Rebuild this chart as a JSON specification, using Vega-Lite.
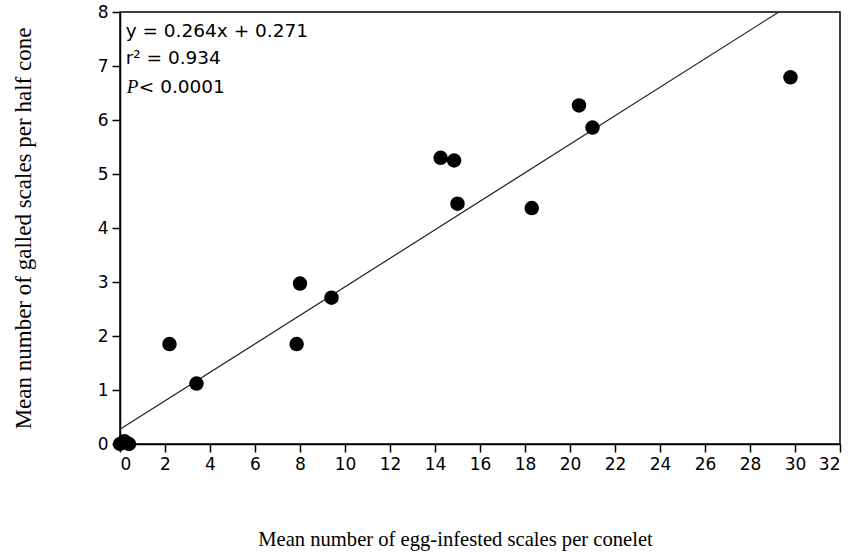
{
  "$schema": "https://vega.github.io/schema/vega-lite/v6.json",
  "width": 720,
  "height": 432,
  "autosize": {"type": "none"},
  "padding": {"left": 120, "top": 12, "right": 11, "bottom": 108},
  "background": "white",
  "config": {
    "view": {"stroke": "black", "strokeWidth": 1.5},
    "axis": {
      "domainColor": "black",
      "domainWidth": 1.5,
      "tickColor": "black",
      "tickWidth": 1.5,
      "tickSize": 8,
      "grid": false,
      "labelFont": "DejaVu Sans",
      "labelFontSize": 17,
      "labelColor": "black",
      "titleFont": "Liberation Serif",
      "titleFontSize": 20.6,
      "titleFontWeight": "normal",
      "titleColor": "black"
    }
  },
  "datasets": {
    "pts": [
      {"x": 0.0, "y": 0.0},
      {"x": 0.2, "y": 0.05},
      {"x": 0.4, "y": 0.0},
      {"x": 2.2, "y": 1.85},
      {"x": 3.4, "y": 1.12},
      {"x": 7.85, "y": 1.85},
      {"x": 8.0, "y": 2.97},
      {"x": 9.4, "y": 2.71},
      {"x": 14.25, "y": 5.3},
      {"x": 14.85, "y": 5.25},
      {"x": 15.0, "y": 4.45},
      {"x": 18.3, "y": 4.37},
      {"x": 20.4, "y": 6.27},
      {"x": 21.0, "y": 5.86},
      {"x": 29.8, "y": 6.79}
    ],
    "fit": [
      {"x": 0, "y": 0.271},
      {"x": 29.28, "y": 8.0}
    ],
    "notes": [
      {"x": 0.25, "y": 7.64, "label": "y = 0.264x  + 0.271"},
      {"x": 0.25, "y": 7.14, "label": "r² = 0.934"}
    ],
    "pnote": [
      {"x": 0.3, "y": 6.61, "p": "P", "rest": "< 0.0001"}
    ]
  },
  "layer": [
    {
      "data": {"name": "fit"},
      "mark": {"type": "line", "color": "#222", "strokeWidth": 1.2},
      "encoding": {
        "x": {
          "field": "x", "type": "quantitative",
          "scale": {"domain": [0, 32], "nice": false, "zero": false},
          "axis": {"values": [0,2,4,6,8,10,12,14,16,18,20,22,24,26,28,30,32], "title": "Mean number of egg-infested scales per conelet", "titlePadding": 57, "labelPadding": 4, "titleX": 335}
        },
        "y": {
          "field": "y", "type": "quantitative",
          "scale": {"domain": [0, 8], "nice": false},
          "axis": {"values": [0,1,2,3,4,5,6,7,8], "title": "Mean number of galled scales per half cone", "titlePadding": 62, "labelPadding": 4, "titleFontSize": 23}
        }
      }
    },
    {
      "data": {"name": "pts"},
      "mark": {"type": "circle", "color": "black", "opacity": 1, "size": 210},
      "encoding": {
        "x": {"field": "x", "type": "quantitative"},
        "y": {"field": "y", "type": "quantitative"}
      }
    },
    {
      "data": {"name": "notes"},
      "mark": {"type": "text", "align": "left", "baseline": "middle", "font": "DejaVu Sans", "fontSize": 18.5, "color": "black"},
      "encoding": {
        "x": {"field": "x", "type": "quantitative"},
        "y": {"field": "y", "type": "quantitative"},
        "text": {"field": "label"}
      }
    },
    {
      "data": {"name": "pnote"},
      "mark": {"type": "text", "align": "left", "baseline": "middle", "font": "Liberation Serif", "fontStyle": "italic", "fontSize": 19, "color": "black"},
      "encoding": {
        "x": {"field": "x", "type": "quantitative"},
        "y": {"field": "y", "type": "quantitative"},
        "text": {"field": "p"}
      }
    },
    {
      "data": {"name": "pnote"},
      "mark": {"type": "text", "align": "left", "baseline": "middle", "font": "DejaVu Sans", "fontSize": 18.5, "color": "black", "dx": 12},
      "encoding": {
        "x": {"field": "x", "type": "quantitative"},
        "y": {"field": "y", "type": "quantitative"},
        "text": {"field": "rest"}
      }
    }
  ]
}
